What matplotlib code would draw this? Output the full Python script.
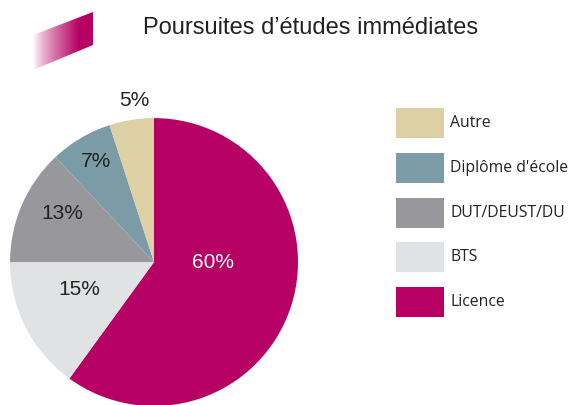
import matplotlib.pyplot as plt
import numpy as np
from matplotlib.patches import Polygon, Rectangle

# data, in pie order (clockwise from 12 o'clock)
categories = ["Licence", "BTS", "DUT/DEUST/DU", "Diplôme d'école", "Autre"]
values = [60, 15, 13, 7, 5]
colors = ["#B60063", "#E1E2E3", "#98989C", "#7B9BA6", "#DCD0A4"]
legend_order = ["Autre", "Diplôme d'école", "DUT/DEUST/DU", "BTS", "Licence"]
title = "Poursuites d’études immédiates"

# label placement (radius, angle in degrees) for each percentage
label_pos = [(0.41, 0), (0.55, 200), (0.72, 152), (0.81, 120), (1.13, 97)]
label_colors = ["white", "#222222", "#222222", "#222222", "#222222"]

fig = plt.figure(figsize=(5.72, 4.05), dpi=100, facecolor="white")

# background axes in pixel coordinates for the decoration and legend
bg = fig.add_axes([0, 0, 1, 1], zorder=0)
bg.set_xlim(0, 572)
bg.set_ylim(405, 0)
bg.axis("off")

# gradient parallelogram next to the title
grad = np.linspace(0, 1, 256).reshape(1, -1)
grad = np.clip(grad * 1.3, 0, 1) ** 0.8
rgb = np.array([0xB6, 0x00, 0x63]) / 255
img = np.ones((1, 256, 4))
img[..., :3] = rgb
img[..., 3] = grad
im = bg.imshow(img, extent=[33, 93, 70, 12], aspect="auto", interpolation="bilinear")
clip = Polygon([[33, 35], [93, 12], [93, 45], [33, 70]], closed=True, transform=bg.transData)
im.set_clip_path(clip)

bg.text(311, 28, title, ha="center", va="center", fontsize=17,
        family="Liberation Sans", color="#222222")

# legend
for i, name in enumerate(legend_order):
    col = colors[categories.index(name)]
    y = 108 + i * 44.8
    bg.add_patch(Rectangle((396, y), 48, 30, facecolor=col, edgecolor="none"))
    bg.text(450, y + 15, name, ha="left", va="center", fontsize=11.3,
            family="Open Sans", color="#222222")

# pie
ax = fig.add_axes([0.0175, -0.0026, 0.5035, 0.711], zorder=1)
wedges, _ = ax.pie(values, colors=colors, startangle=90, counterclock=False,
                   wedgeprops=dict(linewidth=0))
ax.set_xlim(-1, 1)
ax.set_ylim(-1, 1)
ax.set_aspect("equal")
ax.axis("off")

for v, (r, a), c in zip(values, label_pos, label_colors):
    ax.text(r * np.cos(np.radians(a)), r * np.sin(np.radians(a)), f"{v}%",
            ha="center", va="center", fontsize=15, family="Liberation Sans",
            color=c, clip_on=False)

fig.savefig("out.png", dpi=100, facecolor="white")
